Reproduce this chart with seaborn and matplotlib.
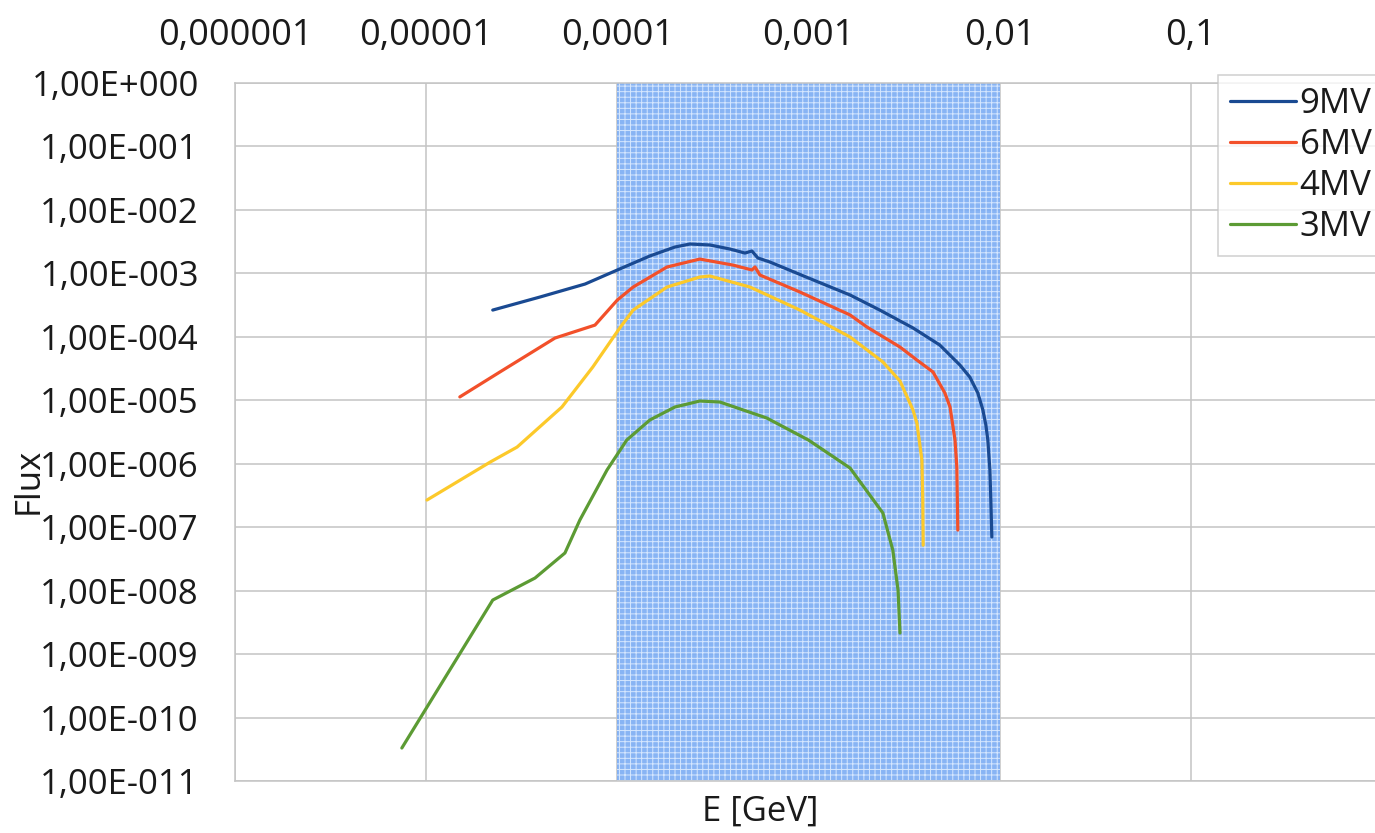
import numpy as np
import pandas as pd
import matplotlib
matplotlib.use("Agg")
import matplotlib.pyplot as plt
import seaborn as sns

# ---------------- data ----------------
e_9mv = [2.23e-5, 3.94e-5, 6.78e-5, 1.0e-4, 1.48e-4, 2.0e-4, 2.40e-4, 3.05e-4, 3.88e-4,
         4.65e-4, 5.06e-4, 5.43e-4, 6.28e-4, 1.0e-3, 1.65e-3, 2.36e-3, 3.52e-3, 4.86e-3,
         6.19e-3, 6.98e-3, 7.69e-3, 8.17e-3, 8.47e-3, 8.67e-3, 8.89e-3, 8.99e-3, 9.10e-3]
f_9mv = [2.64e-4, 4.24e-4, 6.79e-4, 1.13e-3, 1.88e-3, 2.60e-3, 2.90e-3, 2.80e-3, 2.42e-3,
         2.09e-3, 2.25e-3, 1.75e-3, 1.51e-3, 8.45e-4, 4.56e-4, 2.64e-4, 1.38e-4, 7.43e-5,
         3.60e-5, 2.32e-5, 1.30e-5, 7.02e-6, 4.07e-6, 2.36e-6, 7.96e-7, 2.68e-7, 7.0e-8]

e_6mv = [1.50e-5, 2.43e-5, 4.72e-5, 7.64e-5, 1.0e-4, 1.21e-4, 1.82e-4, 2.70e-4, 4.03e-4,
         5.06e-4, 5.25e-4, 5.57e-4, 9.02e-4, 1.65e-3, 2.02e-3, 3.01e-3, 3.69e-3, 4.48e-3,
         5.17e-3, 5.50e-3, 5.84e-3, 5.97e-3, 6.04e-3]
f_6mv = [1.13e-5, 2.79e-5, 9.57e-5, 1.53e-4, 3.80e-4, 6.09e-4, 1.26e-3, 1.68e-3, 1.35e-3,
         1.13e-3, 1.26e-3, 9.42e-4, 5.08e-4, 2.21e-4, 1.43e-4, 6.90e-5, 4.31e-5, 2.79e-5,
         1.30e-5, 7.83e-6, 2.36e-6, 8.87e-7, 9.0e-8]

e_4mv = [1.01e-5, 2.16e-5, 2.99e-5, 5.13e-5, 7.44e-5, 1.03e-4, 1.21e-4, 1.82e-4, 2.70e-4,
         3.05e-4, 4.94e-4, 9.02e-4, 1.65e-3, 2.45e-3, 3.01e-3, 3.52e-3, 3.69e-3, 3.92e-3,
         3.96e-3, 3.98e-3]
f_4mv = [2.68e-7, 1.06e-6, 1.83e-6, 7.83e-6, 3.34e-5, 1.38e-4, 2.64e-4, 6.09e-4, 8.75e-4,
         9.08e-4, 6.09e-4, 2.64e-4, 9.93e-5, 4.01e-5, 2.01e-5, 7.02e-6, 4.38e-6, 1.14e-6,
         2.68e-7, 5.2e-8]

e_3mv = [7.46e-6, 2.23e-5, 3.71e-5, 5.32e-5, 6.37e-5, 8.83e-5, 1.12e-4, 1.48e-4, 2.0e-4,
         2.70e-4, 3.44e-4, 6.05e-4, 1.0e-3, 1.65e-3, 2.45e-3, 2.76e-3, 2.94e-3, 3.01e-3]
f_3mv = [3.31e-11, 7.11e-9, 1.58e-8, 3.92e-8, 1.30e-7, 7.96e-7, 2.36e-6, 4.89e-6, 7.83e-6,
         9.73e-6, 9.38e-6, 5.25e-6, 2.36e-6, 8.55e-7, 1.67e-7, 4.36e-8, 1.02e-8, 2.15e-9]

series_names = ["9MV", "6MV", "4MV", "3MV"]
series_colors = ["#1a4a92", "#f2502a", "#fcc92a", "#5c9b34"]

x_ticks = [1e-6, 1e-5, 1e-4, 1e-3, 1e-2, 1e-1, 1]
x_tick_labels = ["0,000001", "0,00001", "0,0001", "0,001", "0,01", "0,1", "1"]
y_ticks = [10.0 ** (-k) for k in range(0, 12)]
y_tick_labels = ["1,00E+000"] + ["1,00E-%03d" % k for k in range(1, 12)]

band_lo, band_hi = 1e-4, 1e-2

# ---------------- build long table ----------------
frames = []
for name, e, f in zip(series_names, [e_9mv, e_6mv, e_4mv, e_3mv],
                      [f_9mv, f_6mv, f_4mv, f_3mv]):
    frames.append(pd.DataFrame({"E": e, "Flux": f, "series": name,
                                "order": np.arange(len(e))}))
df = pd.concat(frames, ignore_index=True)

# ---------------- style ----------------
sns.set_style("white")
plt.rcParams["font.family"] = ["Open Sans", "DejaVu Sans"]
plt.rcParams["hatch.linewidth"] = 0.7
plt.rcParams["hatch.color"] = "#dcebff"
text_color = "#1a1a1a"
grid_color = "#c4c4c4"

fig = plt.figure(figsize=(13.75, 8.33), dpi=100)
ax = fig.add_axes([235 / 1375, 1 - 781 / 833, (1382 - 235) / 1375, (781 - 83) / 833])

ax.axvspan(band_lo, band_hi, facecolor="#7eaef4", edgecolor="#dcebff",
           hatch="+++", linewidth=0, alpha=0.92, zorder=1)

sns.lineplot(data=df, x="E", y="Flux", hue="series", hue_order=series_names,
             palette=series_colors, sort=False, estimator=None, units="series",
             linewidth=2.3, ax=ax, zorder=3, legend=False)

ax.set_xscale("log")
ax.set_yscale("log")
ax.set_xlim(1e-6, 1)
ax.set_ylim(1e-11, 1)

ax.xaxis.tick_top()
ax.set_xticks(x_ticks)
ax.set_xticklabels(x_tick_labels)
ax.set_yticks(y_ticks)
ax.set_yticklabels(y_tick_labels)
ax.minorticks_off()
ax.tick_params(axis="both", length=0, labelsize=25, colors=text_color)
ax.tick_params(axis="x", pad=21, labelsize=26)
ax.tick_params(axis="y", pad=26)

ax.grid(True, which="major", color=grid_color, linewidth=1.1, zorder=0)
ax.set_axisbelow(True)
for sp in ax.spines.values():
    sp.set_color(grid_color)
    sp.set_linewidth(1.1)

ax.set_xlabel("E [GeV]", fontsize=25, color=text_color)
ax.xaxis.set_label_position("bottom")
ax.xaxis.set_label_coords((760 - 235) / 1147, (781 - 812) / 698)
ax.xaxis.label.set_va("center")
ax.set_ylabel("Flux", fontsize=25, color=text_color)
ax.yaxis.set_label_coords((29 - 235) / 1147, (781 - 481) / 698)
ax.yaxis.label.set_va("center")

handles = [plt.Line2D([], [], color=c, linewidth=2.3) for c in series_colors]
leg = ax.legend(handles, series_names, loc="upper left",
                bbox_to_anchor=((1218 - 235) / 1147, 1 + 8 / 698),
                borderaxespad=0, fontsize=25, frameon=True, fancybox=False,
                edgecolor=grid_color, handlelength=1.9, handletextpad=0.1,
                labelspacing=0.2, borderpad=0.35, labelcolor=text_color)
leg.get_frame().set_linewidth(1.1)
leg.set_zorder(5)

fig.savefig("out.png", dpi=100)
